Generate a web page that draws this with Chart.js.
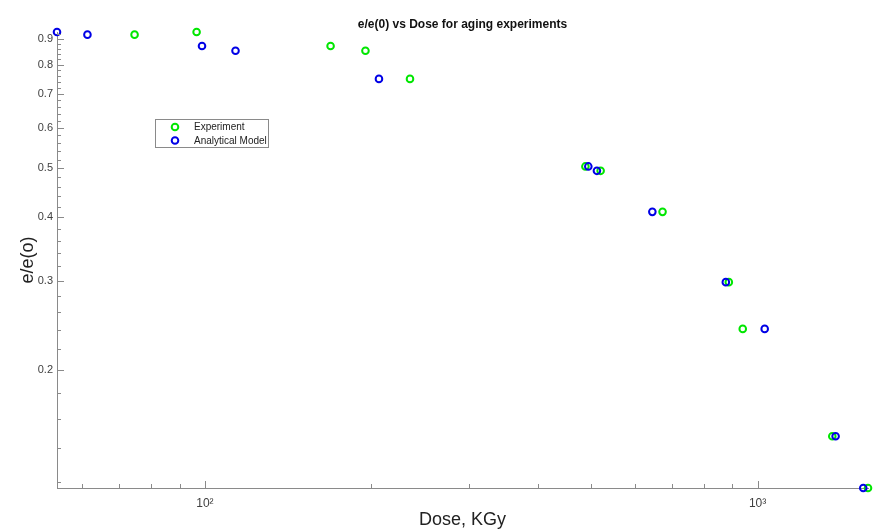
<!DOCTYPE html>
<html>
<head>
<meta charset="utf-8">
<script src="https://cdn.jsdelivr.net/npm/chart.js@4/dist/chart.umd.min.js"></script>
<style>
  body { margin: 0; background: #fff; }
  #wrap { width: 887px; height: 532px; }
</style>
</head>
<body>
<div id="wrap"><canvas id="chart" width="887" height="532"></canvas></div>
<script>
"use strict";
// values (log-log axes)
const expDose = [74.6, 96.6, 168.8, 195.2, 235, 488, 520, 673, 887, 940, 1365, 1584];
const expRatio = [0.917, 0.928, 0.871, 0.852, 0.750, 0.504, 0.494, 0.410, 0.298, 0.241, 0.148, 0.117];
const modelDose = [54, 61.3, 98.8, 113.6, 206.5, 494, 512, 645, 876, 1030, 1384, 1553];
const modelRatio = [0.928, 0.917, 0.871, 0.852, 0.750, 0.504, 0.494, 0.410, 0.298, 0.241, 0.148, 0.117];

const xMajorTicks = [100, 1000];
const xMajorLabels = ['10\u00B2', '10\u00B3'];
const xMinorTicks = [60, 70, 80, 90, 200, 300, 400, 500, 600, 700, 800, 900];
const yMajorTicks = [0.2, 0.3, 0.4, 0.5, 0.6, 0.7, 0.8, 0.9];
const yMajorLabels = ['0.2', '0.3', '0.4', '0.5', '0.6', '0.7', '0.8', '0.9'];

const titleText = 'e/e(0) vs Dose for aging experiments';
const axisGray = '#8a8a8a';
const fontFamily = '"Liberation Sans", Arial, Helvetica, sans-serif';

// minor ticks on y every 0.02
const yMinorTicks = [];
for (let k = 12; k <= 92; k += 2) {
    const v = k / 100;
    if (!yMajorTicks.some(m => Math.abs(m - v) < 1e-9)) yMinorTicks.push(v);
}

const toPoints = (xs, ys) => xs.map((x, i) => ({ x: x, y: ys[i] }));
const near = (a, b) => Math.abs(a - b) < 1e-9 * Math.max(1, Math.abs(b));

const labelFor = (majors, labels) => (value) => {
    const i = majors.findIndex(m => near(m, value));
    return i >= 0 ? labels[i] : '';
};

const setTicks = (majors, minors) => (scale) => {
    const all = majors.map(v => ({ value: v, major: true }))
        .concat(minors.map(v => ({ value: v, major: false })))
        .filter(t => t.value >= scale.min - 1e-9 && t.value <= scale.max + 1e-9)
        .sort((a, b) => a.value - b.value);
    scale.ticks = all;
};

// inward tick marks, title and boxed legend like the original figure
const decorations = {
    id: 'decorations',
    afterDraw(chart) {
        const ctx = chart.ctx;
        const area = chart.chartArea;
        const xs = chart.scales.x;
        const ys = chart.scales.y;
        ctx.save();
        ctx.strokeStyle = axisGray;
        ctx.lineWidth = 1;
        ctx.beginPath();
        xs.ticks.forEach(t => {
            const isMajor = xMajorTicks.some(m => near(m, t.value));
            const px = Math.round(xs.getPixelForValue(t.value)) + 0.5;
            ctx.moveTo(px, area.bottom);
            ctx.lineTo(px, area.bottom - (isMajor ? 7 : 4));
        });
        ys.ticks.forEach(t => {
            const isMajor = yMajorTicks.some(m => near(m, t.value));
            const py = Math.round(ys.getPixelForValue(t.value)) + 0.5;
            ctx.moveTo(area.left, py);
            ctx.lineTo(area.left + (isMajor ? 7 : 4), py);
        });
        ctx.stroke();

        // title centred over the axes
        ctx.fillStyle = '#111';
        ctx.font = 'bold 12px ' + fontFamily;
        ctx.textAlign = 'center';
        ctx.textBaseline = 'middle';
        ctx.fillText(titleText, (area.left + area.right) / 2, 25);

        // legend
        const box = { x: 155.5, y: 119.5, w: 113, h: 28 };
        ctx.fillStyle = '#fff';
        ctx.fillRect(box.x, box.y, box.w, box.h);
        ctx.strokeStyle = '#8a8a8a';
        ctx.strokeRect(box.x, box.y, box.w, box.h);
        ctx.font = '10px ' + fontFamily;
        ctx.textAlign = 'left';
        chart.data.datasets.slice().sort((a, b) => a.legendIndex - b.legendIndex).forEach((ds, i) => {
            const cy = 127 + i * 13.5;
            ctx.beginPath();
            ctx.strokeStyle = ds.borderColor;
            ctx.lineWidth = 2;
            ctx.arc(175, cy, 3.3, 0, Math.PI * 2);
            ctx.stroke();
            ctx.fillStyle = '#222';
            ctx.fillText(ds.label, 194, cy + 0.5);
        });
        ctx.restore();
    }
};

const pointStyle = (color) => ({
    showLine: false,
    borderColor: color,
    backgroundColor: 'rgba(0,0,0,0)',
    pointBackgroundColor: 'rgba(0,0,0,0)',
    pointBorderColor: color,
    pointBorderWidth: 2,
    pointRadius: 3.3,
    pointHoverRadius: 3.3,
    clip: false
});

new Chart(document.getElementById('chart'), {
    type: 'scatter',
    data: {
        datasets: [
            Object.assign({ label: 'Experiment', data: toPoints(expDose, expRatio), order: 1, legendIndex: 0 }, pointStyle('#00e600')),
            Object.assign({ label: 'Analytical Model', data: toPoints(modelDose, modelRatio), order: 0, legendIndex: 1 }, pointStyle('#0000e6'))
        ]
    },
    options: {
        responsive: false,
        animation: false,
        layout: { padding: { top: 32, right: 19, left: 0, bottom: 0 } },
        plugins: {
            legend: { display: false },
            title: { display: false },
            tooltip: { enabled: false }
        },
        scales: {
            x: {
                type: 'logarithmic',
                min: 54,
                max: 1584,
                afterFit: (scale) => { scale.height = 44; },
                afterBuildTicks: setTicks(xMajorTicks, xMinorTicks),
                grid: { display: true, drawOnChartArea: false, drawTicks: false },
                border: { display: true, color: axisGray, width: 1 },
                ticks: {
                    autoSkip: false,
                    maxRotation: 0,
                    padding: 8,
                    color: '#404040',
                    font: { family: fontFamily, size: 12 },
                    callback: labelFor(xMajorTicks, xMajorLabels)
                },
                title: {
                    display: true,
                    text: 'Dose, KGy',
                    color: '#222',
                    font: { family: fontFamily, size: 18 },
                    padding: { top: 0, bottom: 1 }
                }
            },
            y: {
                type: 'logarithmic',
                min: 0.117,
                max: 0.928,
                afterFit: (scale) => { scale.width = 57; },
                afterBuildTicks: setTicks(yMajorTicks, yMinorTicks),
                grid: { display: true, drawOnChartArea: false, drawTicks: false },
                border: { display: true, color: axisGray, width: 1 },
                ticks: {
                    autoSkip: false,
                    padding: 4,
                    color: '#404040',
                    font: { family: fontFamily, size: 11 },
                    callback: labelFor(yMajorTicks, yMajorLabels)
                },
                title: {
                    display: true,
                    text: 'e/e(o)',
                    color: '#222',
                    font: { family: fontFamily, size: 18 },
                    padding: { top: 17, bottom: 0 }
                }
            }
        }
    },
    plugins: [decorations]
});
</script>
</body>
</html>
